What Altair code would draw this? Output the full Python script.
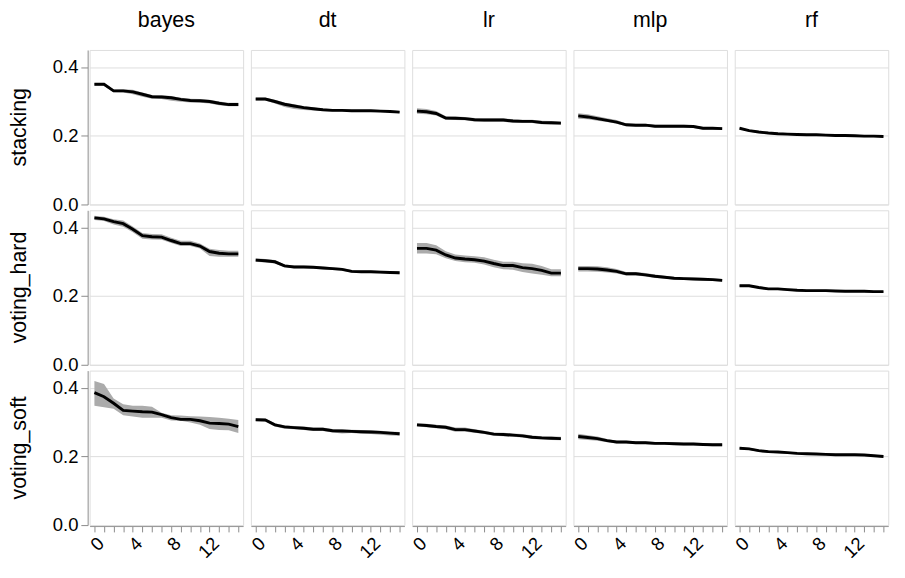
import altair as alt
import pandas as pd

steps = list(range(16))
methods = ["stacking", "voting_hard", "voting_soft"]
models = ["bayes", "dt", "lr", "mlp", "rf"]

# ---- stacking ----
stacking_bayes_mean = [0.350, 0.350, 0.331, 0.331, 0.328, 0.321, 0.314, 0.313, 0.311, 0.306, 0.303, 0.302, 0.300, 0.295, 0.291, 0.291]
stacking_bayes_lo   = [0.346, 0.346, 0.327, 0.326, 0.321, 0.314, 0.308, 0.307, 0.302, 0.299, 0.297, 0.296, 0.294, 0.289, 0.286, 0.286]
stacking_bayes_hi   = [0.354, 0.354, 0.335, 0.336, 0.334, 0.326, 0.319, 0.318, 0.316, 0.311, 0.308, 0.307, 0.305, 0.300, 0.296, 0.296]

stacking_dt_mean = [0.307, 0.307, 0.300, 0.292, 0.287, 0.282, 0.279, 0.276, 0.274, 0.274, 0.273, 0.273, 0.273, 0.272, 0.271, 0.269]
stacking_dt_lo   = [0.303, 0.303, 0.294, 0.284, 0.278, 0.275, 0.274, 0.272, 0.271, 0.271, 0.270, 0.270, 0.270, 0.269, 0.268, 0.266]
stacking_dt_hi   = [0.311, 0.311, 0.305, 0.297, 0.292, 0.287, 0.283, 0.279, 0.277, 0.277, 0.276, 0.276, 0.276, 0.275, 0.274, 0.272]

stacking_lr_mean = [0.272, 0.270, 0.265, 0.252, 0.251, 0.250, 0.247, 0.246, 0.246, 0.246, 0.243, 0.242, 0.242, 0.239, 0.238, 0.237]
stacking_lr_lo   = [0.264, 0.263, 0.259, 0.247, 0.246, 0.245, 0.242, 0.241, 0.241, 0.241, 0.238, 0.237, 0.237, 0.234, 0.233, 0.232]
stacking_lr_hi   = [0.280, 0.278, 0.272, 0.257, 0.256, 0.255, 0.252, 0.251, 0.251, 0.251, 0.248, 0.247, 0.247, 0.244, 0.243, 0.242]

stacking_mlp_mean = [0.258, 0.255, 0.250, 0.245, 0.240, 0.232, 0.231, 0.231, 0.228, 0.228, 0.228, 0.228, 0.227, 0.222, 0.222, 0.221]
stacking_mlp_lo   = [0.250, 0.248, 0.244, 0.240, 0.235, 0.228, 0.227, 0.227, 0.224, 0.224, 0.224, 0.224, 0.223, 0.218, 0.218, 0.217]
stacking_mlp_hi   = [0.266, 0.263, 0.257, 0.251, 0.246, 0.236, 0.235, 0.235, 0.232, 0.232, 0.232, 0.232, 0.231, 0.226, 0.226, 0.225]

stacking_rf_mean = [0.222, 0.215, 0.211, 0.208, 0.206, 0.205, 0.204, 0.203, 0.203, 0.202, 0.201, 0.201, 0.200, 0.199, 0.199, 0.198]
stacking_rf_lo   = [0.219, 0.212, 0.208, 0.205, 0.203, 0.202, 0.201, 0.200, 0.200, 0.199, 0.198, 0.198, 0.197, 0.196, 0.196, 0.195]
stacking_rf_hi   = [0.225, 0.218, 0.214, 0.211, 0.209, 0.208, 0.207, 0.206, 0.206, 0.205, 0.204, 0.204, 0.203, 0.202, 0.202, 0.201]

# ---- voting_hard ----
hard_bayes_mean = [0.428, 0.425, 0.417, 0.411, 0.395, 0.376, 0.373, 0.372, 0.362, 0.353, 0.353, 0.346, 0.330, 0.325, 0.323, 0.323]
hard_bayes_lo   = [0.422, 0.419, 0.409, 0.402, 0.386, 0.367, 0.365, 0.364, 0.355, 0.346, 0.346, 0.339, 0.317, 0.315, 0.315, 0.315]
hard_bayes_hi   = [0.434, 0.431, 0.424, 0.420, 0.403, 0.384, 0.381, 0.380, 0.370, 0.361, 0.361, 0.353, 0.338, 0.334, 0.332, 0.332]

hard_dt_mean = [0.305, 0.303, 0.300, 0.288, 0.285, 0.285, 0.284, 0.282, 0.280, 0.278, 0.272, 0.271, 0.271, 0.270, 0.269, 0.268]
hard_dt_lo   = [0.300, 0.298, 0.295, 0.284, 0.281, 0.281, 0.280, 0.278, 0.276, 0.274, 0.268, 0.267, 0.267, 0.266, 0.265, 0.264]
hard_dt_hi   = [0.310, 0.308, 0.305, 0.292, 0.289, 0.289, 0.288, 0.286, 0.284, 0.282, 0.276, 0.275, 0.275, 0.274, 0.273, 0.272]

hard_lr_mean = [0.339, 0.339, 0.334, 0.320, 0.311, 0.308, 0.306, 0.302, 0.295, 0.289, 0.289, 0.283, 0.280, 0.275, 0.267, 0.267]
hard_lr_lo   = [0.324, 0.324, 0.322, 0.310, 0.302, 0.299, 0.297, 0.292, 0.284, 0.278, 0.277, 0.270, 0.266, 0.262, 0.258, 0.258]
hard_lr_hi   = [0.355, 0.355, 0.348, 0.331, 0.321, 0.318, 0.316, 0.313, 0.306, 0.300, 0.300, 0.296, 0.294, 0.288, 0.278, 0.278]

hard_mlp_mean = [0.280, 0.280, 0.279, 0.276, 0.272, 0.265, 0.265, 0.262, 0.258, 0.255, 0.252, 0.251, 0.250, 0.249, 0.248, 0.246]
hard_mlp_lo   = [0.272, 0.272, 0.271, 0.269, 0.266, 0.260, 0.260, 0.257, 0.253, 0.251, 0.248, 0.247, 0.246, 0.245, 0.244, 0.242]
hard_mlp_hi   = [0.288, 0.288, 0.287, 0.284, 0.279, 0.270, 0.270, 0.267, 0.263, 0.259, 0.256, 0.255, 0.254, 0.253, 0.252, 0.250]

hard_rf_mean = [0.230, 0.230, 0.225, 0.221, 0.221, 0.219, 0.217, 0.216, 0.216, 0.216, 0.215, 0.214, 0.214, 0.214, 0.213, 0.213]
hard_rf_lo   = [0.227, 0.227, 0.222, 0.218, 0.218, 0.216, 0.214, 0.213, 0.213, 0.213, 0.212, 0.211, 0.211, 0.211, 0.210, 0.210]
hard_rf_hi   = [0.233, 0.233, 0.228, 0.224, 0.224, 0.222, 0.220, 0.219, 0.219, 0.219, 0.218, 0.217, 0.217, 0.217, 0.216, 0.216]

# ---- voting_soft ----
soft_bayes_mean = [0.386, 0.374, 0.355, 0.334, 0.332, 0.330, 0.329, 0.322, 0.313, 0.308, 0.308, 0.304, 0.297, 0.296, 0.294, 0.287]
soft_bayes_lo   = [0.348, 0.343, 0.339, 0.320, 0.316, 0.313, 0.313, 0.313, 0.305, 0.304, 0.299, 0.292, 0.280, 0.277, 0.276, 0.268]
soft_bayes_hi   = [0.420, 0.411, 0.369, 0.352, 0.348, 0.348, 0.345, 0.327, 0.320, 0.319, 0.317, 0.316, 0.315, 0.313, 0.310, 0.306]

soft_dt_mean = [0.307, 0.306, 0.292, 0.286, 0.284, 0.282, 0.279, 0.279, 0.275, 0.274, 0.273, 0.272, 0.271, 0.270, 0.268, 0.266]
soft_dt_lo   = [0.303, 0.302, 0.287, 0.281, 0.279, 0.277, 0.274, 0.274, 0.270, 0.267, 0.268, 0.266, 0.265, 0.263, 0.261, 0.260]
soft_dt_hi   = [0.311, 0.310, 0.297, 0.291, 0.289, 0.287, 0.284, 0.284, 0.280, 0.279, 0.278, 0.277, 0.276, 0.275, 0.273, 0.271]

soft_lr_mean = [0.292, 0.290, 0.287, 0.285, 0.278, 0.278, 0.274, 0.270, 0.265, 0.264, 0.262, 0.260, 0.256, 0.254, 0.253, 0.252]
soft_lr_lo   = [0.287, 0.285, 0.282, 0.279, 0.272, 0.272, 0.269, 0.265, 0.260, 0.259, 0.257, 0.255, 0.251, 0.249, 0.248, 0.247]
soft_lr_hi   = [0.297, 0.295, 0.292, 0.290, 0.284, 0.284, 0.279, 0.275, 0.270, 0.269, 0.267, 0.265, 0.261, 0.259, 0.258, 0.257]

soft_mlp_mean = [0.258, 0.255, 0.252, 0.246, 0.242, 0.242, 0.240, 0.240, 0.238, 0.238, 0.237, 0.236, 0.236, 0.235, 0.234, 0.234]
soft_mlp_lo   = [0.250, 0.248, 0.246, 0.241, 0.238, 0.238, 0.236, 0.236, 0.234, 0.234, 0.233, 0.232, 0.232, 0.231, 0.230, 0.230]
soft_mlp_hi   = [0.266, 0.262, 0.258, 0.251, 0.246, 0.246, 0.244, 0.244, 0.242, 0.242, 0.241, 0.240, 0.240, 0.239, 0.238, 0.238]

soft_rf_mean = [0.224, 0.222, 0.217, 0.214, 0.213, 0.211, 0.209, 0.208, 0.207, 0.206, 0.205, 0.205, 0.205, 0.204, 0.202, 0.200]
soft_rf_lo   = [0.221, 0.219, 0.214, 0.211, 0.210, 0.208, 0.206, 0.205, 0.204, 0.203, 0.202, 0.202, 0.202, 0.201, 0.199, 0.197]
soft_rf_hi   = [0.227, 0.225, 0.220, 0.217, 0.216, 0.214, 0.212, 0.211, 0.210, 0.209, 0.208, 0.208, 0.208, 0.207, 0.205, 0.203]

series = {
    ("stacking", "bayes"): (stacking_bayes_mean, stacking_bayes_lo, stacking_bayes_hi),
    ("stacking", "dt"): (stacking_dt_mean, stacking_dt_lo, stacking_dt_hi),
    ("stacking", "lr"): (stacking_lr_mean, stacking_lr_lo, stacking_lr_hi),
    ("stacking", "mlp"): (stacking_mlp_mean, stacking_mlp_lo, stacking_mlp_hi),
    ("stacking", "rf"): (stacking_rf_mean, stacking_rf_lo, stacking_rf_hi),
    ("voting_hard", "bayes"): (hard_bayes_mean, hard_bayes_lo, hard_bayes_hi),
    ("voting_hard", "dt"): (hard_dt_mean, hard_dt_lo, hard_dt_hi),
    ("voting_hard", "lr"): (hard_lr_mean, hard_lr_lo, hard_lr_hi),
    ("voting_hard", "mlp"): (hard_mlp_mean, hard_mlp_lo, hard_mlp_hi),
    ("voting_hard", "rf"): (hard_rf_mean, hard_rf_lo, hard_rf_hi),
    ("voting_soft", "bayes"): (soft_bayes_mean, soft_bayes_lo, soft_bayes_hi),
    ("voting_soft", "dt"): (soft_dt_mean, soft_dt_lo, soft_dt_hi),
    ("voting_soft", "lr"): (soft_lr_mean, soft_lr_lo, soft_lr_hi),
    ("voting_soft", "mlp"): (soft_mlp_mean, soft_mlp_lo, soft_mlp_hi),
    ("voting_soft", "rf"): (soft_rf_mean, soft_rf_lo, soft_rf_hi),
}

rows = []
for (method, model), (m, lo, hi) in series.items():
    for i, s in enumerate(steps):
        rows.append({"method": method, "model": model, "step": s,
                     "mean": m[i], "lo": lo[i], "hi": hi[i]})
df = pd.DataFrame(rows)

FONT = "Liberation Sans"

x = alt.X("step:O", title=None,
          axis=alt.Axis(labelAngle=-45, labelExpr="datum.value % 4 == 0 ? datum.label : ''",
                        labelOverlap=False, grid=False, tickSize=6, labelFontSize=19,
                        labelPadding=2, domainColor="#888", tickColor="#888", labelColor="#000"))
yscale = alt.Scale(domain=[0, 0.45], nice=False)
y_axis = alt.Axis(values=[0, 0.2, 0.4], format=".1f", labelFontSize=19, tickSize=7,
                  labelPadding=3, domainColor="#888", tickColor="#888", labelColor="#000",
                  gridColor="#ddd")

band = alt.Chart().mark_area(color="#ababab", opacity=1).encode(
    x=x,
    y=alt.Y("lo:Q", scale=yscale, axis=y_axis, title=None),
    y2="hi:Q",
)
line = alt.Chart().mark_line(color="black", strokeWidth=3).encode(
    x=x,
    y=alt.Y("mean:Q", scale=yscale, axis=y_axis, title=None),
)

chart = alt.layer(band, line, data=df).properties(width=158, height=159).facet(
    row=alt.Row("method:N", title=None, sort=methods,
                header=alt.Header(labelFontSize=22, labelFont=FONT, labelPadding=22)),
    column=alt.Column("model:N", title=None, sort=models,
                      header=alt.Header(labelFontSize=22, labelFont=FONT, labelPadding=18)),
    spacing={"row": 4, "column": 4},
).properties(
    padding={"left": 0, "top": -7, "right": 0, "bottom": 0}
).configure(font=FONT).configure_view(stroke="#ddd").configure_axis(labelFont=FONT)

chart.save("out.html", embed_options={"renderer": "svg", "actions": False})
